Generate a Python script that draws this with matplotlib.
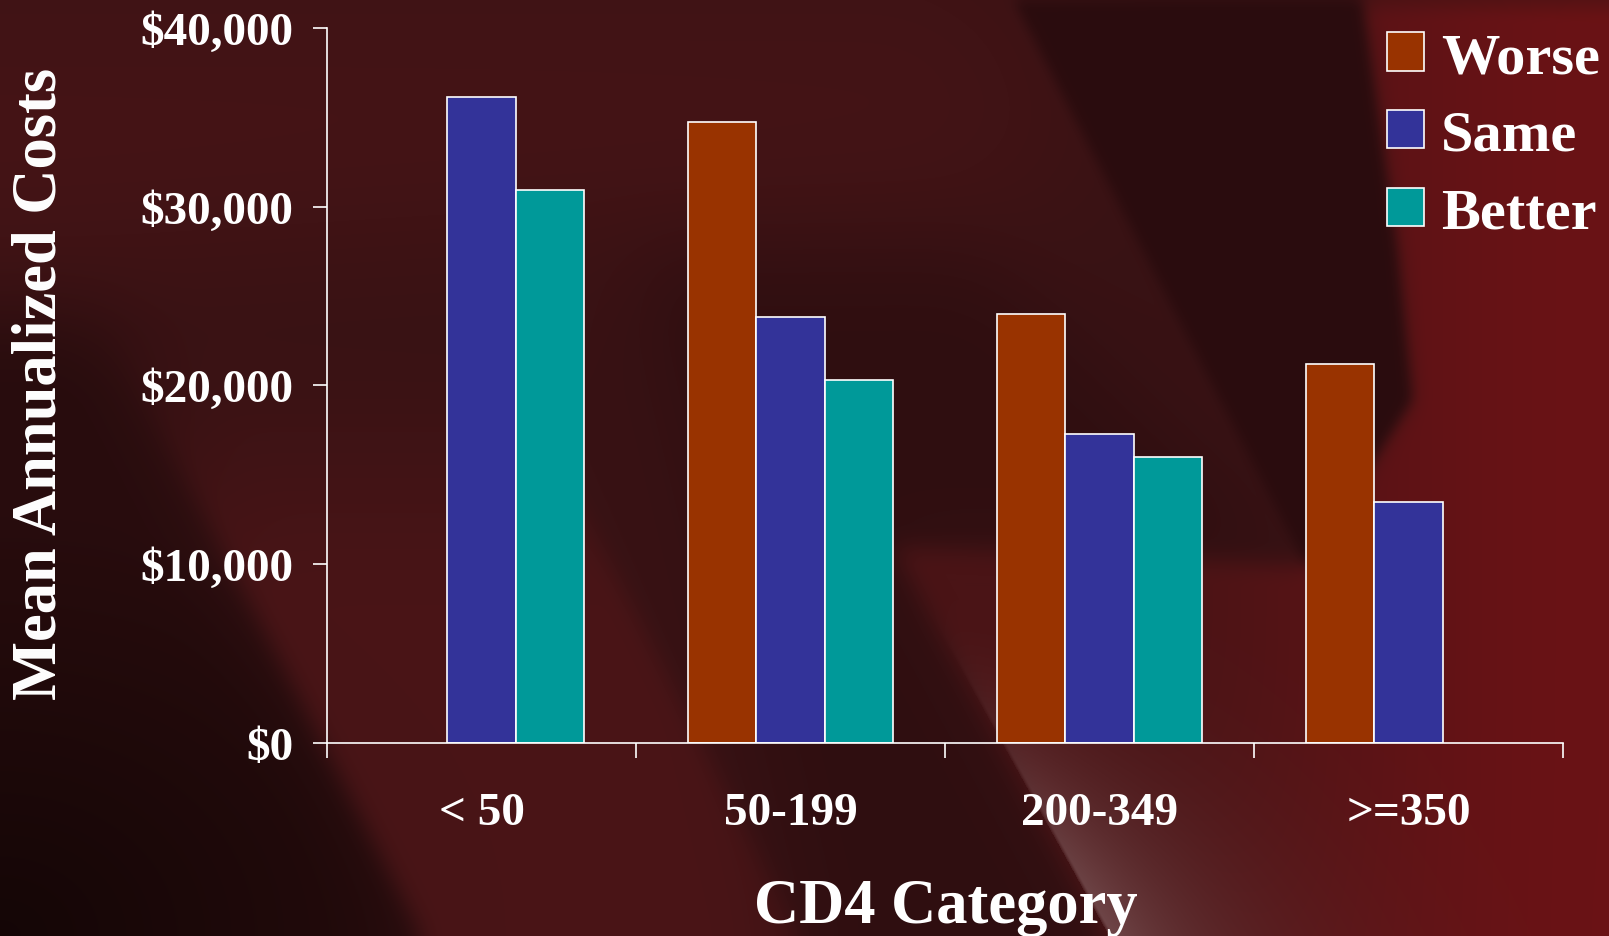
import numpy as np
import matplotlib
matplotlib.use("Agg")
import matplotlib.pyplot as plt
from matplotlib.path import Path
from matplotlib.ticker import FuncFormatter, FixedLocator

# ---- data -------------------------------------------------------------
categories = ["< 50", "50-199", "200-349", ">=350"]
series_names = ["Worse", "Same", "Better"]
worse = [None, 34700, 24000, 21200]
same = [36100, 23800, 17300, 13500]
better = [30900, 20300, 16000, None]
y_ticks = [0, 10000, 20000, 30000, 40000]

colors = {"Worse": "#993300", "Same": "#333399", "Better": "#009999"}

plt.rcParams["font.family"] = ["Liberation Serif", "DejaVu Serif"]
plt.rcParams["font.weight"] = "bold"

W, H = 1609, 937
fig = plt.figure(figsize=(W / 100, H / 100), dpi=100)

# ---- slide background ---------------------------------------------------
yy, xx = np.mgrid[0:H, 0:W].astype(float)
pts = np.column_stack([xx.ravel(), yy.ravel()])


def box_blur(m, r, passes=2):
    if r <= 0:
        return m
    for _ in range(passes):
        for axis in (0, 1):
            c = np.cumsum(np.pad(m, [(r + 1, r) if a == axis else (0, 0) for a in (0, 1)], mode="edge"), axis=axis)
            if axis == 0:
                m = (c[2 * r + 1:, :] - c[:-2 * r - 1, :]) / (2 * r + 1)
            else:
                m = (c[:, 2 * r + 1:] - c[:, :-2 * r - 1]) / (2 * r + 1)
    return m


def poly_mask(vertices, blur):
    m = Path(vertices).contains_points(pts).reshape(H, W).astype(float)
    return box_blur(m, blur)


def hex_rgb(h):
    h = h.lstrip("#")
    return np.array([int(h[i:i + 2], 16) for i in (0, 2, 4)], dtype=float) / 255.0


def smoothstep(v, a, b):
    t = np.clip((v - a) / (b - a), 0, 1)
    return t * t * (3 - 2 * t)


def blend(img, col, alpha):
    return img * (1 - alpha[..., None]) + np.asarray(col)[None, None, :] * alpha[..., None]


img = np.ones((H, W, 3)) * hex_rgb("#381214")

# warmer upper strip
img = blend(img, hex_rgb("#481416"), 0.85 * poly_mask([(0, 0), (1020, 0), (1100, 190), (0, 260)], 90))

# dark left flank and bottom-left corner
img = blend(img, hex_rgb("#240b0c"), 0.8 * poly_mask([(0, 320), (104, 320), (423, 937), (0, 937)], 45))
r = np.hypot(xx / 520.0, (yy - H) / 420.0)
img = blend(img, hex_rgb("#120505"), 0.9 * np.clip(1 - r, 0, 1))

# lighter diagonal band on the lower left
band = poly_mask([(110, 330), (490, 330), (800, 937), (423, 937)], 12) * smoothstep(yy, 300, 620)
img = blend(img, hex_rgb("#4b1517"), 0.9 * band)

# darker diagonal stripe in the middle
img = blend(img, hex_rgb("#2c0d0f"), 0.7 * poly_mask(
    [(640, 260), (980, 260), (1300, 566), (893, 547), (1105, 937), (800, 937)], 45))

# red area to the right, warming towards the edge
grad = smoothstep(xx, 1100, 1609)
red_col = (1 - grad)[..., None] * hex_rgb("#4a1416")[None, None, :] + grad[..., None] * hex_rgb("#6a1215")[None, None, :]
red_mask = poly_mask([(1360, 0), (1609, 0), (1609, 937), (1105, 937), (893, 547),
                      (1305, 566), (1410, 400), (1395, 250)], 12)
img = img * (1 - red_mask[..., None]) + red_col * red_mask[..., None]

# dark wedge hanging from the top
img = blend(img, hex_rgb("#2a0c0e"), 0.95 * poly_mask(
    [(1013, 0), (1360, 0), (1395, 250), (1410, 400), (1305, 566)], 6))

# soft highlight along the lower edge of the stripe
nx, ny = 390.0, -216.0
nlen = np.hypot(nx, ny)
d = ((xx - 893) * nx + (yy - 547) * ny) / nlen
sheen = np.where(d > 0, np.exp(-d / 90.0), 0) * smoothstep(d, -2, 4)
sheen = sheen * smoothstep(yy, 600, 937)
img = blend(img, hex_rgb("#7a5456"), 0.8 * sheen)

bg = fig.add_axes([0, 0, 1, 1], zorder=0)
bg.imshow(np.clip(img, 0, 1), extent=(0, W, H, 0), aspect="auto", interpolation="bilinear")
bg.set_xlim(0, W)
bg.set_ylim(H, 0)
bg.axis("off")

# ---- chart ------------------------------------------------------------
ax = fig.add_axes([327 / W, 1 - 744 / H, (1563 - 327) / W, (744 - 28.7) / H], zorder=1)
ax.patch.set_alpha(0)

x = np.arange(len(categories))
bw = 0.222
offsets = {"Worse": -bw, "Same": 0.0, "Better": bw}
handles = []
for name, vals in zip(series_names, [worse, same, better]):
    xs = [xi + offsets[name] for xi, v in zip(x, vals) if v is not None]
    hs = [v for v in vals if v is not None]
    b = ax.bar(xs, hs, width=bw, color=colors[name], edgecolor="white", linewidth=1.2, label=name)
    handles.append(b)

ax.set_xlim(-0.5, len(categories) - 0.5)
ax.set_ylim(0, 40000)

ax.yaxis.set_major_locator(FixedLocator(y_ticks))
ax.yaxis.set_major_formatter(FuncFormatter(lambda v, p: f"${v:,.0f}"))
ax.tick_params(axis="y", direction="out", length=10, width=1.2, color="white",
               labelcolor="white", labelsize=34, pad=14)

ax.set_xticks(np.arange(-0.5, len(categories), 1.0))
ax.set_xticklabels([])
ax.tick_params(axis="x", which="major", direction="out", length=11, width=1.2, color="white")
ax.set_xticks(x, minor=True)
ax.set_xticklabels(categories, minor=True)
ax.tick_params(axis="x", which="minor", length=0, labelcolor="white", labelsize=34, pad=35)

for s in ("top", "right"):
    ax.spines[s].set_visible(False)
for s in ("left", "bottom"):
    ax.spines[s].set_color("white")
    ax.spines[s].set_linewidth(1.2)

for lbl in ax.get_yticklabels() + ax.get_xticklabels(minor=True):
    lbl.set_fontweight("bold")

fig.text(41 / W, 1 - 384 / H, "Mean Annualized Costs", rotation=90, color="white",
         fontsize=45, fontweight="bold", ha="center", va="center")
fig.text(946 / W, 1 - 908 / H, "CD4 Category", color="white",
         fontsize=45, fontweight="bold", ha="center", va="center")

leg = fig.legend(handles=handles, labels=series_names, loc="upper right",
                 bbox_to_anchor=(1600 / W, 1 - 33 / H), frameon=False,
                 fontsize=42, handlelength=0.63, handleheight=0.63,
                 handletextpad=0.3, labelspacing=0.44, borderaxespad=0, borderpad=0)
for t in leg.get_texts():
    t.set_color("white")
    t.set_fontweight("bold")

fig.savefig("out.png", dpi=100)
